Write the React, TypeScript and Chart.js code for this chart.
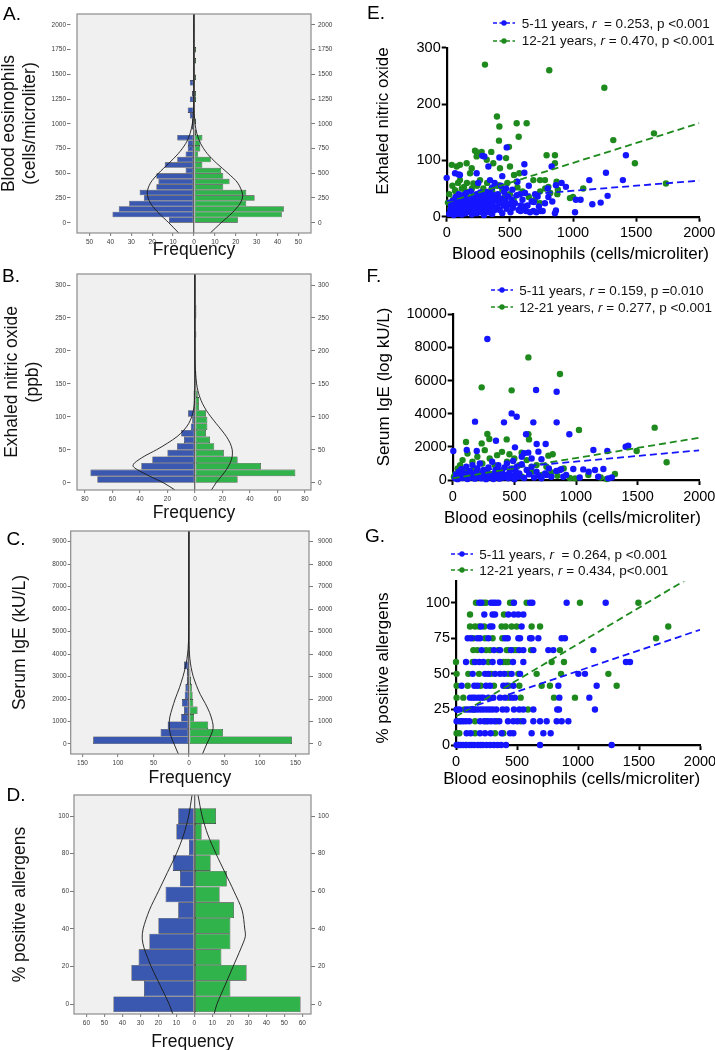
import React, { useEffect, useRef } from 'react';
import { Chart, registerables } from 'chart.js';

Chart.register(...registerables);

const FONT = "'Liberation Sans', Arial, Helvetica, sans-serif";
Chart.defaults.font.family = FONT;

const BLUE_BAR = '#3a58b0';
const GREEN_BAR = '#31b34b';
const BLUE_PT = '#1515ff';
const GREEN_PT = '#1e8a1e';

// ---------------- Panel A: blood eosinophils pyramid ----------------
const A_CENTERS = [27.75, 83.25, 138.75, 194.25, 249.75, 305.25, 360.75, 416.25, 471.75, 527.25, 582.75, 638.25, 693.75, 749.25, 804.75, 860.25, 915.75, 971.25, 1026.75, 1082.25, 1137.75, 1193.25, 1248.75, 1304.25, 1359.75, 1415.25, 1470.75, 1526.25, 1581.75, 1637.25, 1692.75, 1748.25];
const A_BLUE = [12, 39, 36, 31, 24, 26, 18, 17, 18, 4, 14, 8, 4, 3, 3, 8, 0, 1, 1, 2, 3, 0, 2, 1, 0, 2, 0, 0, 0, 0, 0, 0];
const A_GREEN = [21, 42, 43, 25, 29, 25, 14, 17, 14, 13, 4, 8, 2, 3, 3, 4, 1, 0, 1, 0, 0, 0, 1, 1, 0, 0, 1, 0, 0, 1, 0, 1];
const A_BLUE_CURVE = [[-104, 7.3], [0, 12.1], [100, 17], [200, 20.9], [300, 22.4], [400, 20.9], [500, 17], [600, 12.1], [700, 7.5], [800, 4], [900, 1.9], [1000, 0.8], [1100, 0.3], [1200, 0.1], [1300, 0], [2111, 0]];
const A_GREEN_CURVE = [[-104, 7.8], [0, 13], [100, 18.3], [200, 22.2], [280, 23.3], [400, 21], [500, 16.3], [600, 10.9], [700, 6.3], [800, 3.2], [900, 1.4], [1000, 0.5], [1100, 0.16], [1200, 0.04], [1300, 0], [2111, 0]];
const A_Y_TICKS = [0, 250, 500, 750, 1000, 1250, 1500, 1750, 2000];
const A_X_TICKS = [-50, -40, -30, -20, -10, 0, 10, 20, 30, 40, 50];

// ---------------- Panel B: exhaled nitric oxide pyramid ----------------
const B_CENTERS = [5, 15, 25, 35, 45, 55, 65, 75, 85, 95, 105, 115, 125, 135, 145, 155, 165, 175, 185, 195, 205, 215, 225, 235, 245, 255, 265, 275, 285, 295, 305];
const B_BLUE = [71, 76, 39, 31, 20, 13, 8, 10, 3, 2, 5, 1, 1, 1, 0, 0, 0, 0, 0, 0, 0, 0, 0, 0, 0, 0, 0, 0, 0, 0, 0];
const B_GREEN = [31, 73, 48, 31, 21, 14, 11, 8, 9, 9, 8, 3, 3, 2, 1, 1, 1, 0, 0, 0, 0, 0, 1, 0, 0, 1, 1, 0, 0, 0, 0];
const B_BLUE_CURVE = [[-11, 14.5], [0, 23], [10, 33], [20, 42], [25, 45], [30, 44], [40, 37], [50, 28], [60, 20], [70, 13], [80, 8], [90, 4.5], [100, 2.4], [110, 1.1], [125, 0.3], [150, 0.03], [170, 0], [317, 0]];
const B_GREEN_CURVE = [[-11, 12], [0, 15.4], [10, 19.3], [20, 22.9], [30, 25.6], [40, 27.1], [50, 27.1], [60, 25.6], [70, 22.9], [80, 19.3], [90, 15.4], [100, 11.6], [110, 8.2], [120, 5.5], [130, 3.5], [140, 2.1], [150, 1.2], [165, 0.46], [180, 0.16], [200, 0.03], [220, 0], [317, 0]];
const B_Y_TICKS = [0, 50, 100, 150, 200, 250, 300];
const B_X_TICKS = [-80, -60, -40, -20, 0, 20, 40, 60, 80];

// ---------------- Panel C: serum IgE pyramid ----------------
const C_CENTERS = [166.7, 500, 833.3, 1166.7, 1500, 1833.3, 2166.7, 2500, 2833.3, 3166.7, 3500, 3833.3, 4166.7, 4500, 4833.3, 5166.7, 5500, 5833.3, 6166.7, 6500, 6833.3, 7166.7, 7500, 7833.3, 8166.7, 8500, 8833.3, 9166.7];
const C_BLUE = [135, 40, 30, 11, 7, 10, 6, 5, 3, 3, 7, 2, 1, 1, 0, 0, 1, 1, 0, 1, 1, 0, 1, 1, 0, 1, 1, 0];
const C_GREEN = [145, 48, 27, 7, 12, 6, 5, 4, 3, 2, 1, 1, 1, 0, 1, 0, 1, 0, 1, 0, 0, 1, 0, 1, 0, 0, 1, 0];
const C_BLUE_CURVE = [[-445, 15], [0, 21], [400, 26], [800, 28], [1200, 27], [1600, 23.5], [2000, 19.5], [2500, 13.5], [3000, 8.5], [3500, 4.5], [4000, 2], [4500, 0.8], [5000, 0.3], [6000, 0.03], [7000, 0], [9476, 0]];
const C_GREEN_CURVE = [[-445, 19], [0, 25], [400, 31], [700, 34], [1000, 33], [1400, 29], [1800, 23], [2200, 16], [2600, 10.5], [3000, 6], [3400, 3], [3800, 1.2], [4200, 0.4], [5000, 0.05], [6000, 0], [9476, 0]];
const C_Y_TICKS = [0, 1000, 2000, 3000, 4000, 5000, 6000, 7000, 8000, 9000];
const C_X_TICKS = [-150, -100, -50, 0, 50, 100, 150];

// ---------------- Panel D: % positive allergens pyramid ----------------
const D_CENTERS = [0, 8.33, 16.67, 25, 33.33, 41.67, 50, 58.33, 66.67, 75, 83.33, 91.67, 100];
const D_BLUE = [45, 28, 35, 31, 25, 20, 9, 16, 8, 12, 3, 10, 9];
const D_GREEN = [59, 20, 29, 15, 20, 20, 22, 14, 18, 9, 14, 4, 12];
const D_BLUE_CURVE = [[-5.2, 12], [0, 14], [10, 19], [20, 24], [30, 28], [35, 29], [40, 28.5], [50, 25], [60, 20], [70, 15], [80, 10], [90, 6], [100, 3.2], [111.2, 1.3]];
const D_GREEN_CURVE = [[-5.2, 11], [0, 12.5], [10, 17], [20, 21.5], [30, 26], [36, 28.3], [40, 28], [50, 26.5], [60, 22], [70, 17], [80, 12], [90, 7.5], [100, 4.3], [111.2, 2]];
const D_Y_TICKS = [0, 20, 40, 60, 80, 100];
const D_X_TICKS = [-60, -50, -40, -30, -20, -10, 0, 10, 20, 30, 40, 50, 60];

// ---------------- Scatter panels ----------------
const X_TICKS_EOS = [0, 500, 1000, 1500, 2000];
const X_TITLE_EOS = 'Blood eosinophils (cells/microliter)';

const E_BLUE = [[0, 69], [66, 77], [95, 75], [105, 74], [237, 77], [282, 108], [298, 107], [330, 89], [343, 65], [417, 105], [475, 123], [615, 93], [615, 78], [831, 89], [1419, 109], [1395, 65], [1261, 78], [1129, 65], [910, 60], [865, 56], [944, 53], [800, 50], [1023, 30], [1060, 30], [1153, 22], [1219, 25], [1274, 37], [1016, 8], [865, 11], [836, 27], [805, 35], [673, 27], [686, 10], [628, 10], [585, 10], [746, 10], [778, 24], [857, 6], [360, 52], [430, 55], [470, 50], [520, 48], [580, 40], [650, 55], [700, 40], [720, 36], [560, 62], [440, 72], [380, 60], [250, 60],
  [20, 5], [30, 12], [35, 20], [40, 8], [45, 28], [50, 15], [55, 3], [60, 22], [65, 10], [70, 35], [75, 18], [80, 5], [85, 26], [90, 12], [95, 40], [100, 8], [105, 20], [110, 30], [115, 14], [120, 4], [125, 24], [130, 38], [135, 10], [140, 18], [145, 28], [150, 6], [155, 42], [160, 15], [165, 22], [170, 33], [175, 9], [180, 26], [185, 12], [190, 45], [195, 18], [200, 4], [205, 30], [210, 20], [215, 36], [220, 10], [225, 25], [230, 14], [235, 40], [240, 6], [245, 32], [250, 18], [255, 22], [260, 12], [265, 43], [270, 28], [275, 8], [280, 35], [285, 16], [290, 24], [295, 3], [300, 40], [305, 20], [310, 30], [315, 12], [320, 44], [325, 26], [330, 8], [335, 36], [340, 18], [345, 42], [350, 14], [355, 28], [360, 5], [365, 22], [370, 38], [380, 12], [390, 30], [400, 16], [405, 40], [415, 24], [420, 12], [430, 32], [440, 6], [450, 20], [455, 44], [465, 28], [475, 14], [485, 36], [495, 22], [505, 8], [515, 30], [525, 16], [540, 24], [555, 38], [570, 12], [585, 20], [600, 30], [610, 18], [620, 42], [640, 20], [660, 8], [690, 26], [710, 8], [730, 18], [760, 10]];
const E_GREEN = [[303, 270], [812, 260], [1248, 229], [398, 178], [417, 160], [554, 166], [633, 166], [570, 142], [414, 135], [1641, 148], [1319, 136], [1490, 95], [1736, 59], [224, 117], [243, 114], [353, 115], [493, 124], [791, 109], [857, 109], [857, 95], [739, 65], [739, 24], [805, 53], [1081, 50], [976, 33], [876, 40], [870, 62],
  [105, 92], [158, 95], [198, 86], [79, 89], [40, 92], [237, 107], [277, 115], [317, 101], [369, 95], [422, 86], [470, 104], [501, 89], [533, 74], [575, 77], [686, 65], [778, 65], [554, 62], [409, 56], [356, 50], [264, 65], [211, 59], [137, 53], [66, 47], [105, 65], [185, 77],
  [20, 40], [10, 25], [30, 15], [45, 55], [50, 30], [70, 45], [80, 20], [90, 60], [110, 35], [120, 50], [140, 25], [150, 45], [160, 60], [170, 30], [180, 10], [200, 50], [210, 35], [230, 25], [240, 55], [260, 40], [270, 15], [290, 50], [300, 30], [320, 60], [340, 20], [360, 45], [380, 35], [400, 55], [420, 25], [440, 48], [460, 35], [480, 60], [500, 40], [530, 30], [560, 52], [600, 45], [650, 35], [700, 30], [740, 45], [780, 50], [820, 42], [880, 48], [1000, 35]];
const E_BLUE_FIT = [[0, 28], [2000, 64]];
const E_GREEN_FIT = [[0, 25], [2000, 166]];
const E_Y_TICKS = [0, 100, 200, 300];

const F_BLUE = [[281, 8510], [843, 5330], [676, 5430], [478, 4020], [519, 3820], [181, 3520], [416, 3480], [654, 3480], [843, 3480], [946, 2760], [595, 2760], [351, 2370], [681, 2170], [754, 2170], [5, 1750], [114, 1810], [195, 1750], [505, 1970], [578, 1610], [613, 1650], [695, 1710], [1141, 1810], [1254, 1750], [1403, 2010], [1424, 2070], [978, 660], [1059, 640], [1154, 600], [1103, 500], [1222, 660], [1262, 100], [870, 600], [897, 200], [1030, 150], [1180, 200], [1290, 150], [760, 300], [720, 1250], [640, 1300], [560, 1400],
  [20, 100], [30, 300], [40, 50], [50, 500], [60, 200], [70, 650], [80, 120], [90, 400], [100, 250], [110, 800], [120, 60], [130, 350], [140, 550], [150, 150], [160, 900], [170, 300], [180, 80], [190, 450], [200, 700], [210, 200], [220, 1000], [230, 100], [240, 380], [250, 600], [260, 250], [270, 50], [280, 480], [290, 750], [300, 150], [310, 320], [320, 1100], [330, 60], [340, 420], [350, 620], [360, 200], [370, 900], [380, 80], [390, 350], [400, 550], [410, 150], [420, 750], [430, 300], [440, 1000], [450, 100], [460, 450], [470, 650], [480, 250], [490, 1150], [500, 50], [510, 500], [520, 800], [530, 200], [540, 400], [560, 950], [580, 120], [600, 600], [620, 350], [640, 800], [660, 150], [680, 500], [700, 250], [720, 100], [750, 400], [780, 700], [800, 200], [840, 550], [880, 650], [920, 300]];
const F_GREEN = [[614, 7400], [870, 6400], [235, 5590], [478, 5410], [614, 2760], [281, 2780], [297, 2470], [235, 2210], [108, 2290], [438, 2450], [619, 2450], [1024, 3020], [1638, 3160], [1492, 1750], [1735, 1070], [1316, 360], [1249, 60], [992, 100], [811, 1550], [776, 1470], [559, 1650],
  [20, 350], [10, 200], [40, 700], [60, 900], [80, 1200], [100, 500], [120, 1600], [140, 300], [160, 1100], [180, 700], [200, 1400], [220, 400], [240, 1000], [260, 1800], [280, 600], [300, 1300], [320, 200], [340, 900], [360, 1500], [380, 500], [400, 1700], [420, 300], [440, 1100], [460, 1550], [480, 700], [500, 1300], [520, 400], [540, 900], [560, 200], [600, 1200], [640, 500], [680, 900], [720, 300], [760, 800], [800, 450], [850, 250], [900, 700], [950, 120], [1100, 300], [1200, 150]];
const F_BLUE_FIT = [[0, 440], [2000, 1790]];
const F_GREEN_FIT = [[0, 100], [2000, 2550]];
const F_Y_TICKS = [0, 2000, 4000, 6000, 8000, 10000];

const G_BLUE = [[191, 100], [208, 100], [287, 100], [306, 100], [325, 100], [347, 100], [475, 100], [607, 100], [626, 100], [907, 100], [1227, 100],
  [232, 91.7], [300, 91.7], [320, 91.7], [429, 91.7], [475, 91.7], [511, 91.7], [552, 91.7],
  [205, 83.3], [279, 83.3], [298, 83.3], [538, 83.3],
  [96, 75], [123, 75], [175, 75], [197, 75], [265, 75], [402, 75], [424, 75], [511, 75], [525, 75], [607, 75], [620, 75], [675, 75], [866, 75], [893, 75],
  [210, 66.7], [311, 66.7], [361, 66.7], [451, 66.7], [519, 66.7], [552, 66.7], [634, 66.7], [757, 66.7], [798, 66.7], [1126, 66.7],
  [82, 58.3], [156, 58.3], [191, 58.3], [224, 58.3], [300, 58.3], [361, 58.3], [467, 58.3], [552, 58.3], [1393, 58.3], [1426, 58.3],
  [137, 50], [238, 50], [265, 50], [320, 50], [361, 50], [396, 50], [456, 50], [525, 50], [1003, 50], [1057, 50],
  [46, 41.7], [150, 41.7], [175, 41.7], [246, 41.7], [279, 41.7], [388, 41.7], [415, 41.7], [470, 41.7], [839, 41.7], [1153, 41.7],
  [115, 33.3], [137, 33.3], [156, 33.3], [183, 33.3], [205, 33.3], [224, 33.3], [265, 33.3], [306, 33.3], [361, 33.3], [402, 33.3], [456, 33.3], [483, 33.3], [847, 33.3], [1093, 33.3],
  [5, 25], [27, 25], [87, 25], [109, 25], [130, 25], [150, 25], [175, 25], [200, 25], [224, 25], [250, 25], [275, 25], [300, 25], [330, 25], [382, 25], [415, 25], [475, 25], [519, 25], [552, 25], [634, 25], [830, 25], [844, 25], [1139, 25],
  [5, 16.7], [41, 16.7], [60, 16.7], [82, 16.7], [109, 16.7], [197, 16.7], [230, 16.7], [260, 16.7], [287, 16.7], [317, 16.7], [355, 16.7], [426, 16.7], [470, 16.7], [503, 16.7], [552, 16.7], [634, 16.7], [689, 16.7], [743, 16.7], [825, 16.7], [866, 16.7], [921, 16.7],
  [87, 8.3], [120, 8.3], [197, 8.3], [238, 8.3], [284, 8.3], [374, 8.3], [443, 8.3], [470, 8.3], [620, 8.3], [716, 8.3], [776, 8.3],
  [5, 0], [20, 0], [40, 0], [60, 0], [80, 0], [110, 0], [130, 0], [150, 0], [180, 0], [200, 0], [220, 0], [250, 0], [280, 0], [310, 0], [340, 0], [370, 0], [410, 0], [689, 0], [1276, 0]];
const G_GREEN = [[164, 100], [227, 100], [246, 100], [443, 100], [465, 100], [579, 100], [1016, 100], [1495, 100],
  [115, 91.7], [393, 91.7],
  [115, 83.3], [156, 83.3], [189, 83.3], [232, 83.3], [374, 83.3], [407, 83.3], [456, 83.3], [497, 83.3], [620, 83.3], [689, 83.3], [1740, 83.3],
  [142, 75], [238, 75], [300, 75], [380, 75], [1640, 75],
  [142, 66.7], [175, 66.7], [246, 66.7], [279, 66.7], [347, 66.7], [415, 66.7], [429, 66.7], [475, 66.7], [497, 66.7], [615, 66.7], [852, 66.7],
  [0, 58.3], [137, 58.3], [265, 58.3], [388, 58.3], [410, 58.3], [429, 58.3], [784, 58.3], [885, 58.3],
  [5, 50], [101, 50], [189, 50], [287, 50], [429, 50], [511, 50], [661, 50], [861, 50], [1249, 50],
  [5, 41.7], [96, 41.7], [202, 41.7], [311, 41.7], [432, 41.7], [519, 41.7], [702, 41.7], [770, 41.7], [1317, 41.7],
  [5, 33.3], [60, 33.3], [432, 33.3], [530, 33.3], [803, 33.3], [975, 33.3],
  [68, 25], [148, 25], [590, 25],
  [27, 16.7], [156, 16.7], [246, 16.7], [333, 16.7], [530, 16.7],
  [5, 8.3], [27, 8.3], [156, 8.3], [320, 8.3], [388, 8.3],
  [20, 0], [87, 0]];
const G_BLUE_FIT = [[0, 23], [2000, 81]];
const G_GREEN_FIT = [[0, 20], [2000, 122]];
const G_Y_TICKS = [0, 25, 50, 75, 100];

// ---------------- helpers ----------------
const setTicks = (vals: number[]) => (s: any) => {
  s.ticks = vals.map((v) => ({ value: v }));
};
const plainLabel = (v: any) => String(v);

const panelBox = {
  id: 'panelBox',
  beforeDraw(chart: any) {
    const { ctx, chartArea: a } = chart;
    ctx.save();
    ctx.fillStyle = '#f0f0f0';
    ctx.fillRect(a.left, a.top, a.right - a.left, a.bottom - a.top);
    ctx.restore();
  },
  afterDraw(chart: any) {
    const { ctx, chartArea: a } = chart;
    ctx.save();
    ctx.strokeStyle = '#8c8c8c';
    ctx.lineWidth = 1.2;
    ctx.strokeRect(a.left, a.top, a.right - a.left, a.bottom - a.top);
    ctx.restore();
  },
};

function pyramidConfig(p: any) {
  const W = 360;
  const bars = (counts: number[], sign: number) => p.centers.map((c: number, i: number) => ({ x: sign * counts[i], y: c }));
  const curve = (pts: number[][], sign: number) => pts.map(([v, c]) => ({ x: sign * c, y: v }));
  const tickFont = { size: 6.5, family: FONT };
  const titleFont = { size: 17.5, family: FONT, lineHeight: 1.2 };
  const barBase = { type: 'bar', borderColor: '#222', borderWidth: 0.6, borderSkipped: false, grouped: false, barPercentage: 1, categoryPercentage: 1, inflateAmount: 0, xAxisID: 'x', yAxisID: 'y' };
  const lineBase = { type: 'line', borderColor: '#1a1a1a', borderWidth: 0.9, pointRadius: 0, tension: 0.3, fill: false, xAxisID: 'x', yAxisID: 'y' };
  return {
    type: 'bar',
    data: {
      datasets: [
        { ...lineBase, label: 'curve 5-11', data: curve(p.blueCurve, -1) },
        { ...lineBase, label: 'curve 12-21', data: curve(p.greenCurve, 1) },
        { ...barBase, label: '5-11 years', data: bars(p.blue, -1), backgroundColor: BLUE_BAR },
        { ...barBase, label: '12-21 years', data: bars(p.green, 1), backgroundColor: GREEN_BAR },
      ],
    },
    options: {
      indexAxis: 'y',
      animation: false,
      responsive: false,
      events: [],
      layout: { padding: { top: p.areaTop - p.top, left: 0, right: 0, bottom: 0 } },
      plugins: { legend: { display: false }, tooltip: { enabled: false } },
      scales: {
        x: {
          type: 'linear',
          min: p.xMin,
          max: p.xMax,
          afterBuildTicks: setTicks(p.xTicks),
          afterFit: (s: any) => {
            s.height = p.top + p.height - p.areaBottom;
            s.paddingLeft = 0;
            s.paddingRight = 0;
          },
          ticks: { font: tickFont, color: '#3a3a3a', padding: 2.5, maxRotation: 0, minRotation: 0, autoSkip: false, callback: (v: any) => String(Math.abs(Number(v))) },
          grid: {
            color: (c: any) => (c.tick && c.tick.value === 0 ? '#6a6a6a' : 'rgba(0,0,0,0)'),
            lineWidth: 1.3,
            tickColor: '#555',
            tickLength: 3,
            tickWidth: 0.8,
          },
          border: { display: false },
          title: { display: true, text: 'Frequency', color: '#111', font: titleFont, padding: { top: 0, bottom: p.xTitlePad } },
        },
        y: {
          type: 'linear',
          position: 'left',
          min: p.yMin,
          max: p.yMax,
          offset: false,
          afterBuildTicks: setTicks(p.yTicks),
          afterFit: (s: any) => {
            s.width = p.areaLeft;
            s.paddingTop = 0;
            s.paddingBottom = 0;
          },
          ticks: { font: tickFont, color: '#3a3a3a', padding: 1, autoSkip: false, callback: plainLabel },
          grid: { drawOnChartArea: false, offset: false, tickColor: '#555', tickLength: p.leftTickLen, tickWidth: 0.8, tickBorderDash: p.leftTickDash },
          border: { display: false },
          title: { display: true, text: p.yTitle, color: '#111', font: titleFont, padding: { top: p.yTitlePad, bottom: 0 } },
        },
        y2: {
          type: 'linear',
          axis: 'y',
          position: 'right',
          min: p.yMin,
          max: p.yMax,
          offset: false,
          afterBuildTicks: setTicks(p.yTicks),
          afterFit: (s: any) => {
            s.width = W - p.areaRight;
            s.paddingTop = 0;
            s.paddingBottom = 0;
          },
          ticks: { font: tickFont, color: '#3a3a3a', padding: 318 - p.areaRight - 4, autoSkip: false, callback: plainLabel },
          grid: { drawOnChartArea: false, offset: false, tickColor: '#555', tickLength: 4, tickWidth: 0.8 },
          border: { display: false },
        },
      },
    },
    plugins: [panelBox],
  };
}

function scatterConfig(s: any) {
  const pts = (arr: number[][]) => arr.map(([x, y]) => ({ x, y }));
  const tickFont = { size: 14.5, family: FONT };
  return {
    type: 'scatter',
    data: {
      datasets: [
        { type: 'line', label: 'fit 5-11', data: pts(s.blueFit), borderColor: BLUE_PT, borderWidth: 1.8, borderDash: [7, 4], pointRadius: 0, fill: false },
        { type: 'line', label: 'fit 12-21', data: pts(s.greenFit), borderColor: GREEN_PT, borderWidth: 1.8, borderDash: [7, 4], pointRadius: 0, fill: false },
        { label: '5-11 years', data: pts(s.blue), backgroundColor: BLUE_PT, borderWidth: 0, pointRadius: 3.2, clip: false },
        { label: '12-21 years', data: pts(s.green), backgroundColor: GREEN_PT, borderWidth: 0, pointRadius: 3.2, clip: false },
      ],
    },
    options: {
      animation: false,
      responsive: false,
      events: [],
      layout: { padding: { top: s.padTop, right: s.padRight, left: 0, bottom: 0 } },
      plugins: { legend: { display: false }, tooltip: { enabled: false } },
      scales: {
        x: {
          type: 'linear',
          min: 0,
          max: 2000,
          afterBuildTicks: setTicks(X_TICKS_EOS),
          afterFit: (sc: any) => {
            sc.height = s.xH;
            sc.paddingLeft = 0;
            sc.paddingRight = 0;
          },
          ticks: { font: tickFont, color: '#000', padding: 3, maxRotation: 0, minRotation: 0, autoSkip: false, callback: plainLabel },
          grid: { drawOnChartArea: false, tickLength: 5, tickWidth: 2, tickColor: '#000' },
          border: { display: true, color: '#000', width: 2.2 },
        },
        y: {
          type: 'linear',
          min: 0,
          max: s.yMax,
          afterBuildTicks: setTicks(s.yTicks),
          afterFit: (sc: any) => {
            sc.width = s.yW;
            sc.paddingTop = 0;
            sc.paddingBottom = 0;
          },
          ticks: { font: tickFont, color: '#000', padding: 1, autoSkip: false, callback: plainLabel },
          grid: { drawOnChartArea: false, tickLength: 5, tickWidth: 2, tickColor: '#000' },
          border: { display: true, color: '#000', width: 2.2 },
        },
      },
    },
  };
}

function ChartCanvas({ left, top, width, height, config }: any) {
  const ref = useRef<HTMLCanvasElement>(null);
  useEffect(() => {
    const chart = new Chart(ref.current as HTMLCanvasElement, config);
    return () => chart.destroy();
  }, []);
  return (
    <div style={{ position: 'absolute', left, top, width, height }}>
      <canvas ref={ref} width={width} height={height} style={{ display: 'block', width, height }} />
    </div>
  );
}

function Marker({ color }: any) {
  return (
    <svg width={22} height={10} style={{ marginRight: 6.7, flex: 'none' }}>
      <line x1={0} y1={5} x2={22} y2={5} stroke={color} strokeWidth={1.6} strokeDasharray="4 2.5" />
      <circle cx={11} cy={5} r={2.7} fill={color} />
    </svg>
  );
}

function LegendRow({ x, y, color, group, r, p }: any) {
  return (
    <div style={{ position: 'absolute', left: x, top: y - 8.5, height: 17, display: 'flex', alignItems: 'center', whiteSpace: 'pre', fontSize: 13.5, lineHeight: '17px', color: '#111', fontFamily: FONT }}>
      <Marker color={color} />
      <span>
        {group}, <i>r</i>
        {r}, {p}
      </span>
    </div>
  );
}

function AxisText({ cx, cy, text, rotate }: any) {
  return (
    <div
      style={{
        position: 'absolute',
        left: cx,
        top: cy,
        transform: `translate(-50%, -50%)${rotate ? ' rotate(-90deg)' : ''}`,
        whiteSpace: 'nowrap',
        fontSize: 17,
        lineHeight: 1,
        color: '#000',
        fontFamily: FONT,
      }}
    >
      {text}
    </div>
  );
}

const LETTERS: [string, number, number][] = [
  ['A.', 3, 3.5],
  ['B.', 2, 265.5],
  ['C.', 6.5, 529],
  ['D.', 6.5, 785],
  ['E.', 367, 2.5],
  ['F.', 366.5, 265.5],
  ['G.', 365, 525.5],
];

export default function App() {
  const A = pyramidConfig({ top: 0, height: 270, areaLeft: 77, areaRight: 311, areaTop: 14, areaBottom: 233, yMin: -104, yMax: 2111, xMin: -56, xMax: 56, yTicks: A_Y_TICKS, xTicks: A_X_TICKS, centers: A_CENTERS, blue: A_BLUE, green: A_GREEN, blueCurve: A_BLUE_CURVE, greenCurve: A_GREEN_CURVE, yTitle: ['Blood eosinophils', '(cells/microliter)'], yTitlePad: -1.5, xTitlePad: 9.5, leftTickLen: 10, leftTickDash: [3.5, 20] });
  const B = pyramidConfig({ top: 260, height: 265, areaLeft: 77, areaRight: 311, areaTop: 274, areaBottom: 490, yMin: -11, yMax: 316.7, xMin: -85.8, xMax: 84.4, yTicks: B_Y_TICKS, xTicks: B_X_TICKS, centers: B_CENTERS, blue: B_BLUE, green: B_GREEN, blueCurve: B_BLUE_CURVE, greenCurve: B_GREEN_CURVE, yTitle: ['Exhaled nitric oxide', '(ppb)'], yTitlePad: 1.5, xTitlePad: 1.5, leftTickLen: 10, leftTickDash: [3.5, 20] });
  const C = pyramidConfig({ top: 525, height: 265, areaLeft: 70.7, areaRight: 309, areaTop: 531, areaBottom: 754, yMin: -445, yMax: 9476, xMin: -166.6, xMax: 169, yTicks: C_Y_TICKS, xTicks: C_X_TICKS, centers: C_CENTERS, blue: C_BLUE, green: C_GREEN, blueCurve: C_BLUE_CURVE, greenCurve: C_GREEN_CURVE, yTitle: 'Serum IgE (kU/L)', yTitlePad: 9.5, xTitlePad: 1.2, leftTickLen: 3, leftTickDash: undefined });
  const D = pyramidConfig({ top: 790, height: 260, areaLeft: 74, areaRight: 311, areaTop: 795, areaBottom: 1014, yMin: -5.2, yMax: 111.2, xMin: -66.9, xMax: 64.8, yTicks: D_Y_TICKS, xTicks: D_X_TICKS, centers: D_CENTERS, blue: D_BLUE, green: D_GREEN, blueCurve: D_BLUE_CURVE, greenCurve: D_GREEN_CURVE, yTitle: '% positive allergens', yTitlePad: 9.5, xTitlePad: -2.2, leftTickLen: 4, leftTickDash: undefined });

  const E = scatterConfig({ blue: E_BLUE, green: E_GREEN, blueFit: E_BLUE_FIT, greenFit: E_GREEN_FIT, yMax: 300, yTicks: E_Y_TICKS, padTop: 47.7, padRight: 15.7, yW: 86.7, xH: 48.3 });
  const F = scatterConfig({ blue: F_BLUE, green: F_GREEN, blueFit: F_BLUE_FIT, greenFit: F_GREEN_FIT, yMax: 10000, yTicks: F_Y_TICKS, padTop: 49.3, padRight: 15.7, yW: 92.7, xH: 50 });
  const G = scatterConfig({ blue: G_BLUE, green: G_GREEN, blueFit: G_BLUE_FIT, greenFit: G_GREEN_FIT, yMax: 115, yTicks: G_Y_TICKS, padTop: 51.4, padRight: 15, yW: 96, xH: 55 });

  return (
    <div style={{ position: 'absolute', left: 0, top: 0, width: 715, height: 1050, background: '#fff', overflow: 'hidden', fontFamily: FONT }}>
      <ChartCanvas left={0} top={0} width={360} height={270} config={A} />
      <ChartCanvas left={0} top={260} width={360} height={265} config={B} />
      <ChartCanvas left={0} top={525} width={360} height={265} config={C} />
      <ChartCanvas left={0} top={790} width={360} height={260} config={D} />
      <ChartCanvas left={360} top={0} width={355} height={265} config={E} />
      <ChartCanvas left={360} top={265} width={355} height={265} config={F} />
      <ChartCanvas left={360} top={530} width={355} height={270} config={G} />

      <AxisText cx={381.7} cy={121} text="Exhaled nitric oxide" rotate />
      <AxisText cx={382.5} cy={387} text="Serum IgE (log kU/L)" rotate />
      <AxisText cx={382} cy={668} text="% positive allergens" rotate />
      <AxisText cx={580.5} cy={253.3} text={X_TITLE_EOS} />
      <AxisText cx={572.5} cy={516.7} text={X_TITLE_EOS} />
      <AxisText cx={571.7} cy={778.3} text={X_TITLE_EOS} />

      <LegendRow x={493} y={23} color={BLUE_PT} group="5-11 years" r={'\u00a0 = 0.253'} p="p <0.001" />
      <LegendRow x={493} y={40.7} color={GREEN_PT} group="12-21 years" r=" = 0.470" p="p <0.001" />
      <LegendRow x={490.5} y={290} color={BLUE_PT} group="5-11 years" r=" = 0.159" p="p =0.010" />
      <LegendRow x={490.5} y={307} color={GREEN_PT} group="12-21 years" r=" = 0.277" p="p <0.001" />
      <LegendRow x={450.5} y={554} color={BLUE_PT} group="5-11 years" r={'\u00a0 = 0.264'} p="p <0.001" />
      <LegendRow x={450.5} y={570} color={GREEN_PT} group="12-21 years" r=" = 0.434" p="p<0.001" />

      {LETTERS.map(([t, x, y]) => (
        <div key={t} style={{ position: 'absolute', left: x, top: y, fontSize: 19, lineHeight: 1, color: '#000', fontFamily: FONT }}>
          {t}
        </div>
      ))}
    </div>
  );
}
